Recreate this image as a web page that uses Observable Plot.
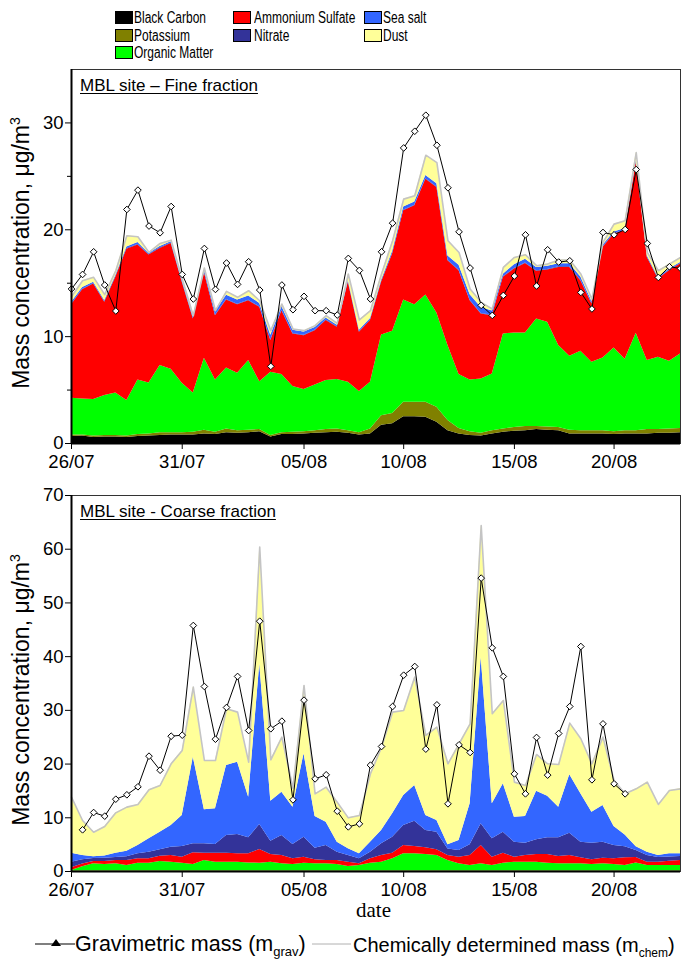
<!DOCTYPE html>
<html><head><meta charset="utf-8">
<script src="https://cdn.jsdelivr.net/npm/d3@7"></script>
<script src="https://cdn.jsdelivr.net/npm/@observablehq/plot@0.6"></script>
<style>
body{margin:0;background:#fff;font-family:"Liberation Sans",Arial,sans-serif;color:#000;}
#page{position:relative;width:681px;height:959px;overflow:hidden;background:#fff;}
.abs{position:absolute;white-space:nowrap;}
.sw{position:absolute;width:16px;height:11px;border:1px solid #000;}
.tx{position:absolute;transform:scaleX(0.75);transform-origin:left center;font-size:16px;line-height:15px;white-space:nowrap;}
.ttl{position:absolute;font-size:17px;line-height:19px;text-decoration:underline;text-underline-offset:2px;white-space:nowrap;}
.ylab{position:absolute;font-size:23px;white-space:nowrap;transform:translate(-50%,-50%) rotate(-90deg);}
.bl{position:absolute;font-size:21px;line-height:22px;white-space:nowrap;}
</style></head>
<body><div id="page"></div>
<script>
// ---------- categories ----------
const species = ["Black Carbon","Potassium","Organic Matter","Ammonium Sulfate","Nitrate","Sea salt","Dust"];
const speciesColors = ["#000000","#808000","#00ff00","#ff0000","#333399","#3366ff","#ffff99"];
const xTickIndex = [0,10,21,30,40,49];
const xTickLabels = ["26/07","31/07","05/08","10/08","15/08","20/08"];

// ---------- Fine fraction (µg/m3), samples 0..55 ----------
const fineBC = [0.65,0.7,0.55,0.6,0.6,0.55,0.65,0.7,0.75,0.8, 0.8,0.8,0.9,0.85,1.0,0.95,1.0,1.1,0.6,0.85, 0.85,0.9,0.95,1.0,1.05,0.95,0.8,0.9,1.7,1.85, 2.5,2.5,2.45,2.0,1.2,0.9,0.75,0.7,0.9,1.05, 1.15,1.2,1.3,1.25,1.2,0.9,0.9,0.9,0.9,0.85, 0.9,0.9,0.9,0.95,0.95,1.0];
const fineK = [0.15,0.1,0.15,0.15,0.15,0.15,0.2,0.2,0.25,0.2, 0.2,0.25,0.35,0.2,0.35,0.25,0.25,0.2,0.15,0.15, 0.2,0.2,0.25,0.3,0.3,0.25,0.2,0.45,0.9,0.95, 1.35,1.35,1.4,1.4,0.95,0.5,0.35,0.25,0.3,0.3, 0.35,0.4,0.3,0.3,0.3,0.35,0.3,0.3,0.3,0.25, 0.3,0.3,0.4,0.35,0.4,0.4];
const fineOM = [3.44,3.37,3.41,3.74,3.98,3.32,5.1,4.77,6.29,5.95, 4.64,3.68,6.73,4.9,5.72,5.37,6.51,4.49,5.92,5.45, 4.28,3.95,4.28,4.59,4.63,4.53,3.86,4.38,7.56,7.7, 9.58,9.14,10.05,8.81,7.01,5.05,4.85,5.09,5.31,8.9, 8.84,8.74,10.05,9.79,7.66,6.91,7.43,6.4,6.8,7.84, 6.68,9.11,6.46,6.77,6.35,6.98];
const fineAS = [8.75,10.22,10.81,8.72,10.82,14.17,12.62,11.96,10.97,11.77, 9.44,6.92,8.03,6.01,6.36,6.42,5.6,6.95,2.96,5.98, 4.92,5.04,5.08,5.61,4.89,9.35,5.54,5.77,4.92,7.23, 8.35,9.25,10.83,11.75,7.94,9.72,7.41,6.08,5.45,5.3, 5.98,6.51,4.46,4.89,7.32,8.32,6.6,5.45,10.35,10.66, 12.03,15.98,9.65,7.32,8.47,8.41];
const fineNO3 = [0.05,0.05,0.05,0.05,0.05,0.05,0.05,0.05,0.05,0.05, 0.05,0.05,0.05,0.05,0.05,0.05,0.05,0.05,0.05,0.05, 0.05,0.05,0.05,0.05,0.05,0.05,0.05,0.05,0.05,0.05, 0.05,0.05,0.05,0.05,0.05,0.05,0.05,0.05,0.05,0.05, 0.05,0.05,0.05,0.05,0.05,0.05,0.05,0.05,0.05,0.05, 0.05,0.05,0.05,0.05,0.05,0.05];
const fineSS = [0.15,0.15,0.13,0.12,0.12,0.15,0.18,0.1,0.12,0.12, 0.14,0.16,0.2,0.32,0.4,0.4,0.4,0.32,0.45,0.35, 0.3,0.3,0.25,0.2,0.15,0.15,0.15,0.15,0.15,0.2, 0.3,0.3,0.3,0.3,0.4,0.45,0.5,0.55,0.4,0.25, 0.35,0.35,0.3,0.3,0.3,0.3,0.3,0.2,0.15,0.15, 0.15,0.15,0.1,0.1,0.1,0.1];
const fineDust = [0.55,0.64,0.45,0.55,0.45,1.05,0.55,0.1,0.29,0.14, 0.12,0.1,0.16,0.1,0.36,0.24,0.49,0.25,0.43,0.22, 0.12,0.12,0.17,0.21,0.18,0.58,0.96,0.73,0.58,0.99, 0.74,0.59,1.9,1.98,1.42,1.21,0.55,0.49,0.18,0.63, 0.69,0.41,0.18,0.21,0.34,0.34,0.28,0.22,0.27,0.73, 0.73,0.74,0.32,0.63,0.47,0.47];
const fineGrav = [14.46,15.82,17.94,14.83,12.40,21.9,23.71,20.35,19.72,22.18, 15.82,13.52,18.25,14.42,16.89,14.89,17.01,14.36,7.22,14.83, 12.52,13.77,12.43,12.43,12.02,17.32,16.2,13.52,17.94,20.62, 27.66,29.22,30.72,27.91,23.93,19.81,16.42,12.93,11.99,13.86, 15.67,19.53,14.74,18.13,16.98,17.1,14.14,12.59,19.75,19.53, 20.03,25.64,18.72,15.54,16.54,16.38];

// ---------- Coarse fraction (µg/m3), samples 0..55 ----------
const coarseBC = [0.05,0.05,0.05,0.05,0.05,0.05,0.05,0.05,0.05,0.05, 0.05,0.05,0.05,0.05,0.05,0.05,0.05,0.05,0.05,0.05, 0.05,0.05,0.05,0.05,0.05,0.05,0.05,0.05,0.05,0.05, 0.05,0.05,0.05,0.05,0.05,0.05,0.05,0.05,0.05,0.05, 0.05,0.05,0.05,0.05,0.05,0.05,0.05,0.05,0.05,0.05, 0.05,0.05,0.05,0.05,0.05,0.05];
const coarseK = [0.1,0.1,0.1,0.1,0.1,0.1,0.1,0.1,0.1,0.1, 0.1,0.1,0.1,0.1,0.1,0.1,0.1,0.1,0.1,0.1, 0.1,0.1,0.1,0.1,0.1,0.1,0.1,0.1,0.1,0.1, 0.1,0.1,0.1,0.1,0.1,0.1,0.1,0.1,0.1,0.1, 0.1,0.1,0.1,0.1,0.1,0.1,0.1,0.1,0.1,0.1, 0.1,0.1,0.1,0.1,0.1,0.1];
const coarseOM = [0.05,0.75,1.28,1.15,1.28,0.97,1.4,1.4,1.71,1.59, 1.4,1.15,1.9,1.59,1.59,1.59,1.45,1.4,1.59,1.28, 1.15,1.4,1.28,1.28,1.15,0.78,0.97,1.4,1.59,2.21, 3.14,3.14,3.02,2.83,1.9,1.28,0.97,1.28,0.97,1.4, 1.59,1.59,1.59,1.4,1.28,1.28,1.28,1.15,1.28,1.15, 0.97,1.45,0.97,0.97,0.97,0.97];
const coarseAS = [0.48,0.5,0.42,0.55,0.62,0.93,0.81,0.81,1.0,1.24, 1.12,2.18,1.36,1.67,1.67,1.55,1.69,2.55,1.43,1.55, 1.06,1.12,0.74,0.62,0.75,0.81,0.31,0.81,1.24,1.05, 1.55,1.37,1.24,1.05,0.93,1.24,1.86,3.41,1.55,1.86, 0.93,1.24,1.43,1.62,1.36,1.55,1.12,0.87,1.05,1.06, 1.43,1.0,0.62,0.62,0.8,0.93];
const coarseNO3 = [1.06,0.8,0.55,0.6,0.55,0.7,0.93,1.24,1.17,1.55, 1.99,1.67,1.74,1.62,3.29,3.6,2.98,4.65,2.48,3.72, 2.67,3.72,2.18,2.79,1.55,1.24,0.93,1.24,2.17,2.98, 3.73,4.71,3.23,3.29,1.22,1.24,2.02,4.04,3.41,3.91, 2.79,2.3,2.73,3.1,3.48,4.16,2.91,3.11,2.98,2.48, 2.05,1.3,1.26,0.86,0.78,0.75];
const coarseSS = [1.67,0.8,0.35,0.45,0.81,1.04,1.55,2.48,3.29,4.04, 5.77,16.14,6.33,6.64,13.04,13.47,7.57,29.92,7.45,8.07, 6.95,15.52,5.89,4.35,1.86,1.24,0.93,1.86,2.49,4.35, 5.58,6.64,2.79,2.18,0.8,1.86,7.6,31.03,6.52,9.01, 4.66,4.96,9.06,7.76,5.71,10.86,9.0,5.77,6.83,3.54, 2.2,0.7,0.6,0.4,0.59,0.49];
const coarseDust = [10.43,6.5,4.57,5.48,7.51,8.19,7.64,9.13,8.69,11.48, 12.1,13.04,9.19,9.0,10.55,9.31,6.52,21.73,7.69,10.25, 3.52,12.73,4.22,6.51,7.45,5.77,7.14,12.73,15.51,18.93, 15.83,20.18,14.9,17.38,15.05,18.0,14.9,24.49,16.76,15.51, 6.52,5.77,6.83,6.02,7.95,9.62,10.25,9.0,12.73,8.57, 7.66,10.79,13.04,9.48,11.79,12.1];
const coarseGrav = [null,7.76,10.98,10.3,13.46,14.28,15.77,21.47,18.86,25.19, 25.38,45.8,34.44,24.63,30.53,36.31,26.25,46.6,26.57,27.99, 13.34,31.9,17.25,18.0,11.23,8.31,8.87,19.8,23.27,30.72, 36.55,38.17,22.78,31.03,12.6,23.58,22.16,54.62,41.64,36.31, 18.18,14.46,24.95,17.94,25.69,30.72,41.89,17.07,27.49,16.33, 14.46,null,null,null,null,null];

// ---------- build tables ----------
function longTable(series){
  return species.flatMap((s,k)=>series[k].map((v,i)=>({i, v, s})));
}
function totals(series){
  return series[0].map((_,i)=>({i, v: d3.sum(series, a=>a[i])}));
}
function gravTable(arr){ return arr.map((v,i)=>({i,v})).filter(d=>d.v!=null); }

const fineSeries = [fineBC,fineK,fineOM,fineAS,fineNO3,fineSS,fineDust];
const coarseSeries = [coarseBC,coarseK,coarseOM,coarseAS,coarseNO3,coarseSS,coarseDust];

const page = document.getElementById("page");

function panel(series, grav, yMax, yTicks, yMinor, top, height, mt, mb){
  const marks = [
    Plot.areaY(longTable(series), {x:"i", y:"v", fill:"s", order: species, curve:"linear"}),
    Plot.lineY(totals(series), {x:"i", y:"v", stroke:"#c4c4c4", strokeWidth:1.6}),
    Plot.lineY(gravTable(grav), {x:"i", y:"v", stroke:"#000", strokeWidth:1}),
    Plot.dot(gravTable(grav), {x:"i", y:"v", symbol:"diamond2", fill:"#fff", stroke:"#000", strokeWidth:1, r:3}),
    Plot.frame({stroke:"#333", strokeWidth:1}),
    Plot.ruleX([0], {stroke:"#000", strokeWidth:2}),
    Plot.ruleY([0], {stroke:"#000", strokeWidth:2}),
    Plot.axisY({ticks:yTicks, tickSize:6, tickPadding:2, fontSize:18.5, label:null, tickFormat:d=>String(d)}),
    Plot.axisX({ticks:xTickIndex, tickSize:6, tickPadding:5, fontSize:18.5, label:null, tickFormat:d=>xTickLabels[xTickIndex.indexOf(d)]})
  ];
  if (yMinor) marks.push(Plot.axisY({ticks:yMinor, tickSize:4, label:null, tickFormat:()=>""}));
  const svg = Plot.plot({
    width:681, height, marginLeft:71, marginRight:1, marginTop:mt, marginBottom:mb,
    x:{domain:[0,55], label:null},
    y:{domain:[0,yMax], label:null},
    color:{domain:species, range:speciesColors},
    style:{fontFamily:'"Liberation Sans", Arial, sans-serif', background:"transparent", color:"#000", overflow:"visible"},
    marks
  });
  const wrap = document.createElement("div");
  wrap.className = "abs";
  wrap.style.left = "0px"; wrap.style.top = top + "px";
  wrap.appendChild(svg);
  page.appendChild(wrap);
}

panel(fineSeries, fineGrav, 35, [0,10,20,30], [5,15,25], 60, 410, 9, 27);
panel(coarseSeries, coarseGrav, 70, [0,10,20,30,40,50,60,70], null, 480, 420, 15, 29);

// ---------- HTML text ----------
function add(html, cls, css){
  const el = document.createElement("div");
  el.className = cls; el.innerHTML = html;
  Object.assign(el.style, css);
  page.appendChild(el);
  return el;
}
// top legend
const legendItems = [
  {name:"Black Carbon", sx:115, tx:134, y:11},
  {name:"Potassium", sx:115, tx:134, y:29},
  {name:"Organic Matter", sx:115, tx:134, y:46},
  {name:"Ammonium Sulfate", sx:233, tx:254, y:11},
  {name:"Nitrate", sx:233, tx:254, y:29},
  {name:"Sea salt", sx:364, tx:383, y:11},
  {name:"Dust", sx:364, tx:383, y:29}
];
legendItems.forEach(it=>{
  const c = speciesColors[species.indexOf(it.name)];
  add("", "sw", {left: it.sx+"px", top: it.y+"px", background: c});
  add(it.name, "tx", {left: it.tx+"px", top: (it.y-1)+"px"});
});

add("MBL site – Fine fraction", "ttl", {left:"80px", top:"76px"});
add("MBL site - Coarse fraction", "ttl", {left:"80px", top:"502px"});

add("Mass concentration, μg/m<sup style='font-size:14px'>3</sup>", "ylab", {left:"21px", top:"253px"});
add("Mass concentration, μg/m<sup style='font-size:14px'>3</sup>", "ylab", {left:"21px", top:"690px"});

add("date", "abs", {left:"356px", top:"898px", fontFamily:'"Liberation Serif","Times New Roman",serif', fontSize:"21px", lineHeight:"24px"});

// bottom legend
add(`<svg width="42" height="14"><line x1="0" y1="7" x2="40" y2="7" stroke="#000" stroke-width="1.2"/><path d="M21,2 L26,9 L16,9 Z" fill="#000"/></svg>`, "abs", {left:"35px", top:"937px"});
add("Gravimetric mass (m<sub style='font-size:13px'>grav</sub>)", "bl", {left:"75px", top:"933px", fontSize:"21.5px"});
add(`<svg width="40" height="14"><line x1="0" y1="7" x2="39" y2="7" stroke="#b0b0b0" stroke-width="1"/></svg>`, "abs", {left:"312px", top:"937px"});
add("Chemically determined mass (m<sub style='font-size:12px'>chem</sub>)", "bl", {left:"353px", top:"934px", fontSize:"20px"});
</script>
</body></html>
